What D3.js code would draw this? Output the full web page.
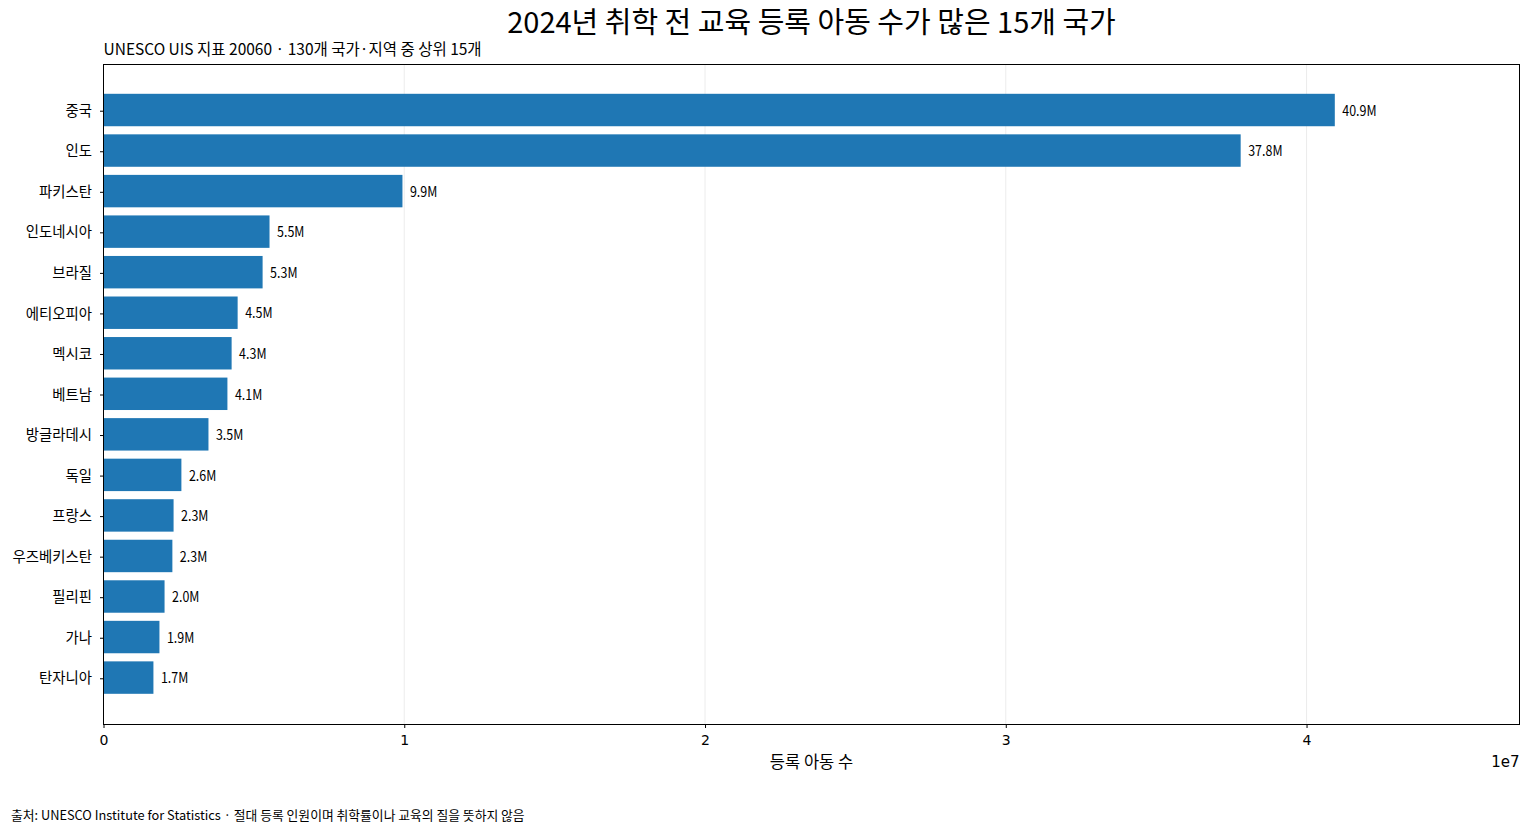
<!DOCTYPE html>
<html><head><meta charset="utf-8">
<script src="https://cdn.jsdelivr.net/npm/d3@7"></script>
<style>
body{margin:0;background:#fff;}
text{font-family:"Noto Sans CJK KR","Noto Sans",sans-serif;}
</style></head>
<body><svg id="c" width="1530" height="833"></svg>
<script>
const countries = ["중국","인도","파키스탄","인도네시아","브라질","에티오피아","멕시코","베트남","방글라데시","독일","프랑스","우즈베키스탄","필리핀","가나","탄자니아"];
const enrolment = [40940000,37810000,9940000,5520000,5290000,4460000,4260000,4120000,3490000,2590000,2330000,2290000,2030000,1860000,1660000];
const xTicks = [0,1e7,2e7,3e7,4e7];
const xTickLabels = ["0","1","2","3","4"];
const titleText = "2024년 취학 전 교육 등록 아동 수가 많은 15개 국가";
const subtitleText = "UNESCO UIS 지표 20060 · 130개 국가·지역 중 상위 15개";
const xLabelText = "등록 아동 수";
const sourceText = "출처: UNESCO Institute for Statistics · 절대 등록 인원이며 취학률이나 교육의 질을 뜻하지 않음";

const svg = d3.select("#c");
const L=103.5, R=1519.5, T=64.5, B=724.5;
const x = d3.scaleLinear().domain([0, d3.max(enrolment)*1.15]).range([L,R]);
const n = countries.length;
const y = d3.scaleLinear().domain([-0.4-0.74, n-1+0.4+0.74]).range([T,B]);
const bh = y(0.4)-y(-0.4);

// grid
svg.append("g").selectAll("line").data(xTicks).join("line")
  .attr("x1",d=>x(d)).attr("x2",d=>x(d)).attr("y1",T).attr("y2",B)
  .attr("stroke","#b0b0b0").attr("stroke-opacity",0.3).attr("stroke-width",0.8);

// bars
svg.append("g").selectAll("rect").data(enrolment).join("rect")
  .attr("x",x(0)).attr("y",(d,i)=>y(i)-bh/2-0.7)
  .attr("width",d=>x(d)-x(0)).attr("height",bh).attr("fill","#1f77b4");

// value labels
svg.append("g").selectAll("text").data(enrolment).join("text")
  .attr("x",d=>x(d)+7.5).attr("y",(d,i)=>y(i)).attr("dy","0.35em")
  .attr("font-size",14.5).attr("fill","#000")
  .attr("transform",(d,i)=>`translate(${x(d)+7.5},0) scale(0.86,1) translate(${-(x(d)+7.5)},0)`)
  .text(d=>(d/1e6).toFixed(1)+"M");

// frame
svg.append("rect").attr("x",L).attr("y",T).attr("width",R-L).attr("height",B-T)
  .attr("fill","none").attr("stroke","#000").attr("stroke-width",1);

// x axis
const xa = svg.append("g").attr("transform",`translate(0,${B})`)
  .call(d3.axisBottom(x).tickValues(xTicks).tickFormat((d,i)=>xTickLabels[i]).tickSize(3.5).tickPadding(7));
xa.select(".domain").remove();
xa.selectAll("text").attr("fill","#000").style("font-family","'DejaVu Sans'").attr("font-size",14);

// y axis
const ya = svg.append("g").attr("transform",`translate(${L},0)`)
  .call(d3.axisLeft(y).tickValues(d3.range(n)).tickFormat(i=>countries[i]).tickSize(3.5).tickPadding(8));
ya.select(".domain").remove();
ya.selectAll("text").attr("font-size",14.4).attr("fill","#000");

svg.append("text").attr("x",(L+R)/2).attr("y",33).attr("text-anchor","middle")
  .attr("font-size",29).text(titleText);
svg.append("text").attr("x",L).attr("y",55).attr("font-size",15.5).text(subtitleText);
svg.append("text").attr("x",(L+R)/2).attr("y",768).attr("text-anchor","middle")
  .attr("font-size",16.5).text(xLabelText);
svg.append("text").attr("x",R).attr("y",767).attr("text-anchor","end")
  .attr("font-size",15).style("font-family","'DejaVu Sans'").text("1e7");
svg.append("text").attr("x",11).attr("y",820).attr("font-size",12.8).text(sourceText);
</script></body></html>
